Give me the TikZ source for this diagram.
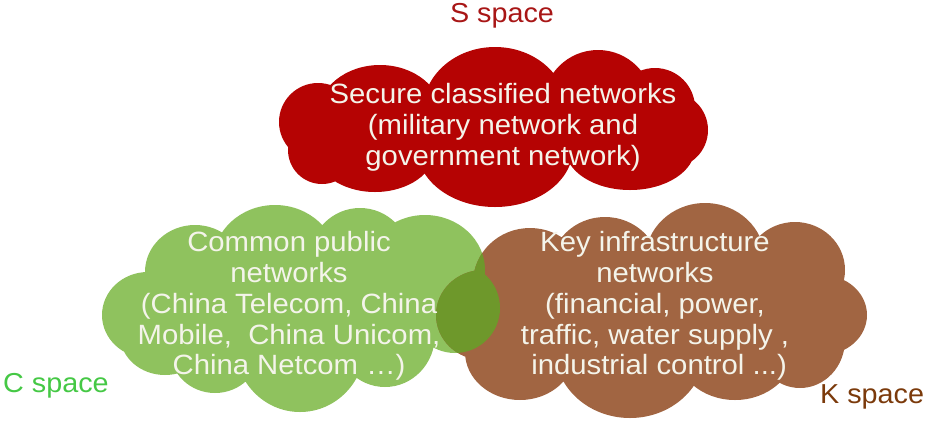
\documentclass[tikz,border=0pt]{standalone}
\usepackage{fontspec}
\setmainfont[FakeStretch=1.05]{Liberation Sans}
\definecolor{cred}{HTML}{B50303}
\definecolor{cgreen}{HTML}{8FC25E}
\definecolor{cbrown}{HTML}{A16542}
\definecolor{colive}{HTML}{6E982B}
\definecolor{ctxt}{HTML}{F4F4EA}
\definecolor{slab}{HTML}{A81616}
\definecolor{clab}{HTML}{45C845}
\definecolor{klab}{HTML}{7B3A0B}
\begin{document}
\begin{tikzpicture}[x=1bp,y=-1bp,
  ctext/.style={text=ctxt, align=center, font=\fontsize{28}{31}\selectfont, inner sep=0pt},
  spacelab/.style={font=\fontsize{27.5}{30}\selectfont, inner sep=0pt},
  redcloud/.style={insert path={
    (380,115) -- (318,122) -- (322,150) -- (375,150) -- (495,148) -- (630,148)
    -- (670,130) -- (655,108) -- (598,105) -- (495,110) -- cycle
    (380,115) ellipse[x radius=62bp, y radius=50bp]
    (318,122) circle[radius=39bp]
    (322,150) circle[radius=34bp]
    (375,150) ellipse[x radius=60bp, y radius=42bp]
    (495,148) ellipse[x radius=78bp, y radius=59bp]
    (630,148) ellipse[x radius=65bp, y radius=42bp]
    (670,130) circle[radius=38bp]
    (655,108) circle[radius=40bp]
    (598,105) ellipse[x radius=55bp, y radius=55bp]
    (495,110) ellipse[x radius=72bp, y radius=63bp]}},
  greencloud/.style={insert path={
    (195,272) -- (148,315) -- (165,335) -- (215,350) -- (300,345) -- (385,335)
    -- (455,308) -- (425,270) -- (360,258) -- (275,262) -- cycle
    (195,272) ellipse[x radius=50bp, y radius=47bp]
    (148,315) ellipse[x radius=46bp, y radius=43bp]
    (165,335) ellipse[x radius=45bp, y radius=40bp]
    (215,350) ellipse[x radius=45bp, y radius=43bp]
    (300,345) ellipse[x radius=65bp, y radius=67bp]
    (385,335) ellipse[x radius=50bp, y radius=52bp]
    (455,308) circle[radius=45bp]
    (425,270) ellipse[x radius=60bp, y radius=55bp]
    (360,258) circle[radius=50bp]
    (275,262) ellipse[x radius=62bp, y radius=57bp]}},
  browncloud/.style={insert path={
    (530,283) -- (483,315) -- (520,352) -- (630,350) -- (735,348) -- (800,340)
    -- (822,315) -- (795,270) -- (705,260) -- (605,270) -- cycle
    (530,283) ellipse[x radius=57bp, y radius=55bp]
    (483,315) ellipse[x radius=47bp, y radius=45bp]
    (520,352) ellipse[x radius=55bp, y radius=48bp]
    (630,350) ellipse[x radius=75bp, y radius=68bp]
    (735,348) ellipse[x radius=60bp, y radius=52bp]
    (800,340) ellipse[x radius=45bp, y radius=48bp]
    (822,315) ellipse[x radius=45bp, y radius=40bp]
    (795,270) ellipse[x radius=50bp, y radius=48bp]
    (705,260) ellipse[x radius=60bp, y radius=57bp]
    (605,270) ellipse[x radius=55bp, y radius=53bp]}}]
\useasboundingbox (0,0) rectangle (927,422);
\fill[cred, redcloud];
\fill[cgreen, greencloud];
\fill[cbrown, browncloud];
\begin{scope}
  \clip[browncloud];
  \fill[colive, greencloud];
\end{scope}
\node[ctext] (stext) at (503,127) {Secure classified networks\\(military network and\\government network)};
\node[ctext] (ctextn) at (289,306) {Common public\\networks\\(China Telecom, China\\Mobile,\ \ China Unicom,\\China Netcom …)};
\node[ctext] (ktext) at (655,306) {Key infrastructure\\networks\\(financial, power,\\traffic, water supply ,\\\ industrial control ...)};
\node[spacelab, text=slab, anchor=base] (slabel) at (502,22) {S space};
\node[spacelab, text=clab, anchor=base west] (clabel) at (3,392) {C space};
\node[spacelab, text=klab, anchor=base west] (klabel) at (820,403) {K space};
\end{tikzpicture}
\end{document}
